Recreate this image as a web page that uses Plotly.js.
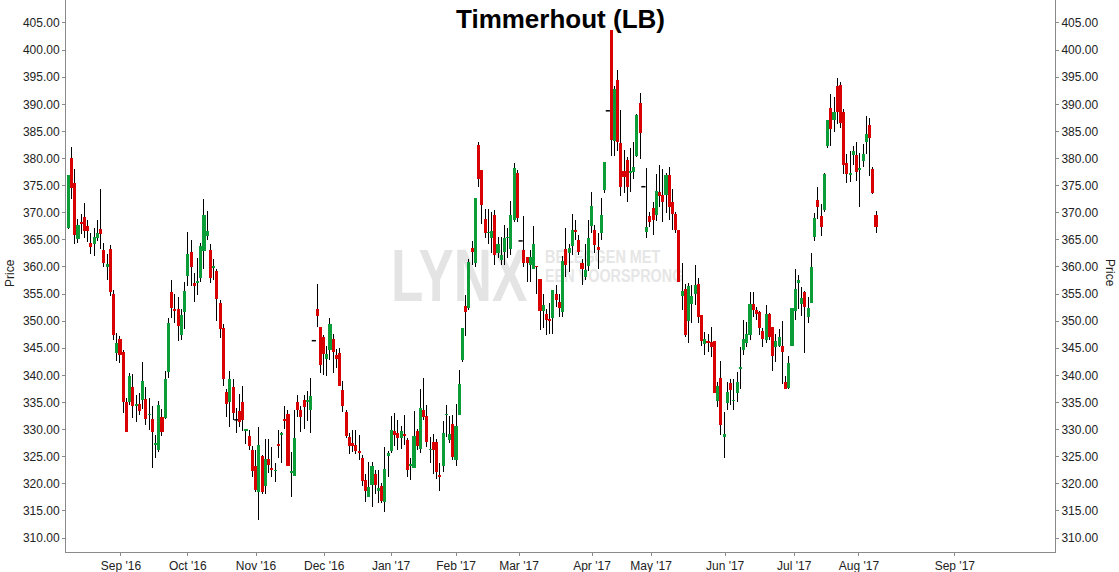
<!DOCTYPE html>
<html>
<head>
<meta charset="utf-8">
<script src="https://cdn.plot.ly/plotly-3.0.1.min.js"></script>
<style>
  html, body { margin: 0; padding: 0; background: #ffffff; }
  #wrap { position: relative; width: 1119px; height: 572px; overflow: hidden; }
  #wm { position: absolute; left: 0; top: 0; width: 1119px; height: 572px; z-index: 0; font-family: "Liberation Sans", Arial, sans-serif; font-weight: bold; }
  #wm .lynx { position: absolute; left: 391px; top: 238px; font-size: 75px; line-height: 1; color: #e4e4e4; transform: scaleX(0.705); transform-origin: 0 0; white-space: nowrap; }
  #wm .tag { position: absolute; left: 545px; font-size: 18px; line-height: 1; color: #e6e6e6; transform: scaleX(0.8); transform-origin: 0 0; white-space: nowrap; }
  #plot { position: absolute; left: 0; top: 0; z-index: 1; }
  #plot .barlayer path, #plot .scatterlayer .js-line { shape-rendering: crispEdges; }
</style>
</head>
<body>
<div id="wrap">
  <div id="wm">
    <div class="lynx">LYNX</div>
    <div class="tag" style="top:248px">BELEGGEN MET</div>
    <div class="tag" style="top:267px">EEN VOORSPRONG</div>
  </div>
  <div id="plot"></div>
</div>
<script>
// ---- Data, one entry per trading session ----
const openP = [
367.1,380.1,375.4,365.1,368.3,369.3,367.5,364.5,364.3,365.4,367.0,363.1,360.0,363.3,355.0,344.1,346.7,344.3,335.0,335.0,
337.9,334.4,334.7,335.5,335.6,332.6,332.0,327.2,326.2,332.4,332.2,340.6,355.4,352.3,352.2,347.4,351.6,358.3,362.8,357.0,
357.1,357.9,363.0,365.7,363.1,359.8,359.2,353.3,348.7,336.9,335.1,337.8,331.8,333.5,335.1,329.8,328.8,326.2,323.3,318.5,
325.1,319.6,324.6,322.9,322.3,327.4,329.0,331.9,332.9,322.0,321.5,335.0,333.6,335.5,335.1,333.6,346.4,352.2,348.9,347.1,
343.0,344.7,346.8,343.8,344.1,337.3,333.3,328.6,327.5,327.1,326.0,324.8,320.7,317.6,319.8,321.8,318.7,319.6,316.7,325.2,
326.1,329.7,329.3,328.4,329.2,328.1,323.2,323.0,329.7,326.5,333.7,332.5,326.3,327.8,327.8,321.6,323.3,332.6,328.1,331.0,
324.3,332.7,342.8,352.8,352.5,363.5,360.8,382.5,377.9,368.8,366.2,365.4,369.6,362.6,361.3,362.8,365.3,363.4,368.7,377.3,
364.8,363.1,361.8,360.4,359.6,360.2,357.7,351.9,351.4,350.4,350.5,355.0,353.5,351.6,363.4,362.5,363.9,366.8,364.9,360.8,
358.2,360.2,367.5,366.9,363.6,366.3,374.2,388.8,403.7,383.3,394.5,382.8,377.7,379.8,377.3,377.6,380.5,390.2,374.8,366.5,
369.4,370.8,369.6,373.9,373.3,373.3,376.9,372.0,369.8,366.9,354.7,355.9,350.1,353.1,355.0,356.9,351.1,345.8,346.3,346.1,
346.4,335.3,339.6,328.6,334.9,338.6,335.2,336.8,341.2,344.6,346.0,347.4,353.2,352.0,351.7,348.1,346.6,351.3,349.0,345.3,
345.4,345.4,338.8,337.6,345.4,351.9,357.1,353.2,355.4,350.7,353.3,365.6,372.3,369.4,370.5,382.3,389.4,387.1,393.3,393.6,
388.6,379.1,377.0,380.6,380.6,377.9,379.6,383.1,386.2,378.0,369.6];
const highP = [
377.0,382.1,378.0,368.8,369.7,371.8,368.6,366.2,367.1,368.6,374.3,364.5,362.3,364.1,355.7,347.8,347.3,344.7,335.9,340.4,
340.2,336.3,336.7,342.5,337.8,335.9,334.4,329.0,335.3,333.8,340.8,350.6,357.6,355.0,354.5,352.3,357.3,366.5,365.0,358.8,
361.6,364.4,372.5,370.4,364.2,361.5,359.6,353.9,349.5,337.5,340.8,339.3,333.9,336.6,338.0,330.1,330.0,327.0,326.2,330.4,
325.4,328.3,328.3,326.8,323.9,330.0,329.5,334.3,333.7,325.9,333.6,336.4,334.3,336.4,337.2,339.6,346.4,356.9,348.9,347.4,
345.4,350.5,347.6,344.8,345.1,339.0,333.7,329.4,330.0,330.0,329.0,325.3,321.8,324.1,324.1,322.6,322.6,320.2,326.7,326.1,
332.5,333.0,331.8,330.6,332.7,328.4,324.7,333.4,330.2,337.4,339.6,334.5,328.7,329.2,328.2,323.8,331.6,334.5,332.5,332.7,
334.8,340.9,348.7,354.8,361.4,364.8,372.8,383.0,377.9,370.6,370.6,370.2,370.5,365.5,365.5,367.7,367.1,372.2,379.1,377.8,
364.8,369.4,361.8,363.1,367.5,360.2,357.7,355.1,352.2,353.3,355.7,356.7,355.1,362.0,367.1,364.2,369.8,368.6,365.9,361.4,
364.2,368.6,373.8,367.7,366.2,372.8,379.3,388.8,403.7,393.3,396.4,388.9,381.6,380.3,381.9,383.1,388.3,392.1,374.8,378.2,
370.2,372.0,377.1,378.8,378.0,377.4,378.5,374.3,370.2,366.9,360.7,356.9,357.1,356.7,360.3,357.9,351.1,348.0,347.7,349.0,
346.4,338.8,342.7,333.3,338.8,339.3,339.3,340.7,345.2,350.2,349.9,355.4,355.4,352.7,351.9,348.7,353.0,351.5,349.0,347.6,
348.5,350.1,339.9,343.6,352.4,359.6,358.5,356.3,355.6,354.5,362.6,370.0,374.8,371.7,377.4,387.1,391.9,391.4,394.8,394.2,
389.1,380.9,381.3,382.3,383.1,381.1,382.7,387.8,387.4,378.5,370.4];
const lowP = [
367.0,372.5,364.3,364.4,366.0,365.4,364.6,362.3,362.0,364.8,363.3,360.0,357.6,354.7,346.5,342.7,342.2,333.0,329.6,334.5,
332.2,331.4,332.6,333.8,330.8,329.9,322.9,324.8,325.9,328.8,332.0,339.5,350.5,349.6,346.4,346.5,348.6,356.4,356.4,353.6,
354.9,357.3,359.7,365.0,357.1,357.6,350.1,346.9,338.0,332.4,330.4,331.8,329.3,330.4,329.8,327.4,326.2,321.3,318.5,313.3,
318.2,318.2,322.0,321.3,320.4,324.7,323.8,330.2,323.3,317.6,321.5,332.4,329.6,330.2,331.6,329.4,346.4,349.0,340.5,340.1,
339.9,342.8,340.4,341.3,338.1,333.3,328.4,325.5,325.9,325.5,324.3,319.6,316.7,317.6,315.8,318.2,316.4,316.4,314.8,321.3,
325.6,327.0,326.2,326.5,327.1,321.3,320.7,323.0,326.2,325.7,331.8,326.7,323.9,321.9,320.8,318.7,322.2,328.7,327.6,324.3,
323.3,332.7,342.5,347.2,352.0,360.4,360.0,374.8,368.0,365.3,364.3,362.5,360.4,361.6,360.4,360.4,361.6,362.2,368.2,368.3,
364.8,360.0,357.3,357.3,359.6,355.1,348.4,348.7,347.4,347.7,347.7,352.7,350.8,350.8,358.2,359.1,362.2,364.9,362.2,356.7,
357.6,359.3,366.2,362.6,359.7,364.9,373.6,388.8,380.5,380.5,381.3,373.1,373.6,372.0,373.9,376.2,380.3,380.0,374.8,365.4,
367.3,365.9,368.4,371.1,368.3,369.9,368.7,366.9,366.3,357.3,352.0,347.1,346.0,349.6,353.0,349.7,345.4,343.7,344.4,343.4,
336.8,334.2,329.0,324.7,333.7,334.5,333.6,335.0,337.4,343.7,345.3,346.5,350.7,350.2,347.4,345.3,345.9,346.5,340.8,342.5,
345.2,338.5,337.4,337.4,345.4,350.2,352.2,350.9,344.2,349.7,353.3,364.8,368.8,365.8,370.2,381.9,382.3,384.9,386.4,385.6,
377.1,375.4,375.7,378.8,375.9,371.0,378.5,380.8,376.8,373.5,366.2];
const closeP = [
376.9,374.5,365.9,367.7,367.9,366.7,366.7,363.7,365.6,366.2,366.0,360.8,360.5,355.4,347.5,345.9,343.8,335.1,329.6,339.8,
334.4,334.7,333.4,338.9,331.9,332.9,329.6,327.5,334.5,329.6,339.4,349.7,352.5,351.9,349.1,351.1,355.6,362.4,359.9,356.4,
357.5,363.9,369.6,366.6,358.0,360.2,354.1,348.5,339.3,334.8,339.4,333.1,331.8,331.4,331.8,330.1,326.9,322.4,318.8,327.1,
318.5,324.6,323.5,322.5,322.6,327.0,329.3,331.5,323.3,322.3,328.5,333.6,332.4,334.2,335.4,336.2,346.4,351.0,341.9,344.0,
343.9,349.5,344.4,343.1,338.1,334.4,328.9,327.0,327.0,326.1,325.6,320.6,318.7,319.4,323.3,319.8,319.3,316.9,322.8,325.6,
330.0,329.0,328.4,329.7,328.8,322.5,323.6,328.8,327.0,333.9,332.4,327.8,326.5,326.2,322.2,321.3,329.4,332.9,329.2,325.0,
330.6,338.5,348.7,351.6,361.0,362.8,372.8,376.3,371.4,366.3,366.5,366.6,362.2,364.2,362.2,365.3,365.5,369.6,378.2,369.0,
364.8,360.7,360.8,361.8,364.3,359.9,351.9,353.0,350.3,350.1,355.7,353.9,352.4,361.1,360.4,363.5,366.8,366.4,362.8,359.6,
359.4,365.4,371.2,364.0,363.2,369.5,379.3,388.8,383.4,392.8,383.1,374.8,376.5,374.8,377.7,378.5,388.0,384.8,374.8,367.4,
368.3,368.6,374.1,373.1,372.0,376.9,371.1,369.8,366.9,357.3,355.6,347.4,356.4,354.7,356.7,350.8,346.4,346.7,345.9,345.2,
336.8,338.0,330.8,329.2,336.9,337.3,335.5,338.8,341.6,346.8,347.7,353.2,352.0,351.3,348.7,346.8,351.3,347.0,343.6,346.4,
347.1,344.4,337.4,342.2,352.4,355.9,357.6,354.2,352.7,352.5,360.0,369.0,371.1,367.3,377.1,387.1,385.4,388.6,388.5,386.6,
378.8,377.1,377.4,381.3,377.6,378.3,380.8,384.5,383.7,373.7,367.4];

// Month tick labels and the session index (candle slot) each one sits on
const tickLabels = ["Sep '16","Oct '16","Nov '16","Dec '16","Jan '17","Feb '17","Mar '17","Apr '17","May '17","Jun '17","Jul '17","Aug '17","Sep '17"];
const tickIdx    = [16.3, 37.0, 58.1, 79.2, 99.9, 120.0, 139.5, 162.1, 180.4, 203.3, 224.7, 244.7, 274.4];
const priceTicks = [310,315,320,325,330,335,340,345,350,355,360,365,370,375,380,385,390,395,400,405];

const titleText = "Timmerhout (LB)";
const axisTitle = "Price";

// ---- Derived arrays for drawing ----
const n = openP.length;
const idx = Array.from({length: n}, (_, i) => i);
const RED = '#d80000';
const GREEN = '#0a9d38';
const AXIS = '#8a8a8a';
const FONT = '"Liberation Sans", Arial, sans-serif';

const bodyBase = openP.map((o, i) => Math.min(o, closeP[i]));
const bodyLen  = openP.map((o, i) => Math.abs(closeP[i] - o));
const bodyCol  = openP.map((o, i) => closeP[i] >= o ? GREEN : RED);

// wick segments: low -> high for each session
const wickX = [], wickY = [];
idx.forEach(i => { wickX.push(i, i, null); wickY.push(lowP[i], highP[i], null); });

// sessions whose open equals close are drawn as a black dash
const flatX = idx.filter(i => openP[i] === closeP[i]);
const flatY = flatX.map(i => openP[i]);

const wicks = {
  type: 'scatter', mode: 'lines', x: wickX, y: wickY, connectgaps: false,
  line: {color: '#000000', width: 1}, hoverinfo: 'skip', showlegend: false, xaxis: 'x', yaxis: 'y'
};
const flats = {
  type: 'scatter', mode: 'markers', x: flatX, y: flatY,
  marker: {symbol: 'line-ew', size: 3, line: {color: '#000000', width: 1.5}},
  hoverinfo: 'skip', showlegend: false, xaxis: 'x', yaxis: 'y'
};
// coloured bodies on the overlaying axis so they sit above the wicks
const bodies = {
  type: 'bar', x: idx, y: bodyLen, base: bodyBase, width: 0.95,
  marker: {color: bodyCol, line: {width: 0}},
  hoverinfo: 'skip', showlegend: false, xaxis: 'x', yaxis: 'y2'
};

const yRange = [307.42, 409.24];
const yCommon = {
  range: yRange, fixedrange: true, showgrid: false, zeroline: false,
  showline: true, linecolor: AXIS, linewidth: 1,
  ticks: 'outside', ticklen: 3, tickcolor: AXIS, tickwidth: 1,
  tickvals: priceTicks, ticktext: priceTicks.map(v => v.toFixed(2)),
  tickfont: {family: FONT, size: 12, color: '#222222'}
};

const layout = {
  width: 1119, height: 572,
  margin: {l: 66, r: 64, t: 0, b: 20, pad: 0},
  paper_bgcolor: 'rgba(0,0,0,0)', plot_bgcolor: 'rgba(0,0,0,0)',
  showlegend: false, hovermode: false, barmode: 'overlay',
  font: {family: FONT, size: 12, color: '#222222'},
  xaxis: {
    range: [-0.71, 305.4], fixedrange: true, showgrid: false, zeroline: false,
    showline: true, linecolor: AXIS, linewidth: 1,
    ticks: 'outside', ticklen: 3, tickcolor: AXIS, tickwidth: 1,
    tickvals: tickIdx, ticktext: tickLabels,
    tickfont: {family: FONT, size: 12, color: '#222222'}
  },
  yaxis: Object.assign({}, yCommon, {side: 'left'}),
  yaxis2: Object.assign({}, yCommon, {side: 'right', overlaying: 'y', anchor: 'x'}),
  annotations: [
    {text: '<b>' + titleText + '</b>', xref: 'paper', yref: 'paper', x: 0.5, y: (552 - 19) / 552, xanchor: 'center', yanchor: 'middle', showarrow: false,
     font: {family: FONT, size: 26, color: '#000000'}},
    {text: axisTitle, xref: 'paper', yref: 'paper', x: (10 - 66) / 989, y: (552 - 273) / 552, textangle: -90, xanchor: 'center', yanchor: 'middle', showarrow: false,
     font: {family: FONT, size: 12, color: '#222222'}},
    {text: axisTitle, xref: 'paper', yref: 'paper', x: (1110 - 66) / 989, y: (552 - 273) / 552, textangle: 90, xanchor: 'center', yanchor: 'middle', showarrow: false,
     font: {family: FONT, size: 12, color: '#222222'}}
  ]
};

Plotly.newPlot('plot', [wicks, flats, bodies], layout, {staticPlot: true, displayModeBar: false});
</script>
</body>
</html>
